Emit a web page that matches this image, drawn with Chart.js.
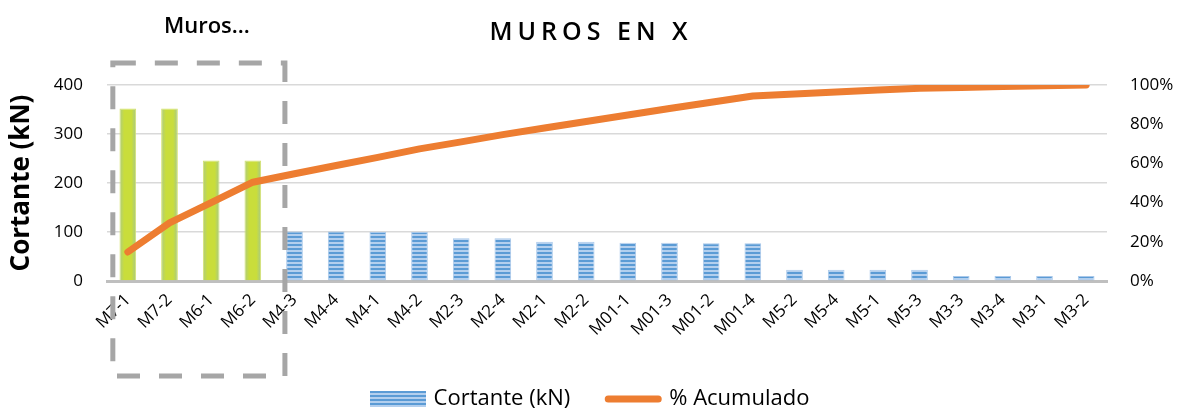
<!DOCTYPE html>
<html>
<head>
<meta charset="utf-8">
<script src="https://cdn.jsdelivr.net/npm/chart.js@4/dist/chart.umd.min.js"></script>
<style>
  body { margin: 0; background: #fff; }
  #wrap { width: 1182px; height: 412px; position: relative; }
</style>
</head>
<body>
<div id="wrap"><canvas id="paretoChart"></canvas></div>
<script>
// Muros (etiquetas del eje X)
const muros = ["M7-1", "M7-2", "M6-1", "M6-2", "M4-3", "M4-4", "M4-1", "M4-2",
    "M2-3", "M2-4", "M2-1", "M2-2", "M01-1", "M01-3", "M01-2", "M01-4",
    "M5-2", "M5-4", "M5-1", "M5-3", "M3-3", "M3-4", "M3-1", "M3-2"];
// Cortante en kN
const cortante = [352, 352, 246, 246, 101, 101, 100, 100, 87, 87, 80, 80,
    78, 78, 77, 77, 23, 23, 23, 23, 10, 10, 10, 10];
// % acumulado
const acumulado = [14.8, 29.7, 40.0, 50.4, 54.7, 58.9, 63.1, 67.4, 71.0, 74.7,
    78.1, 81.4, 84.7, 88.0, 91.2, 94.4, 95.4, 96.4, 97.4, 98.3, 98.7, 99.2, 99.6, 100];
const cortanteTicks = [0, 100, 200, 300, 400];
const nResaltados = 4; // muros dentro del recuadro

const FONT = "'Open Sans', sans-serif";

// patron rayado azul para las barras
const makeStripes = (w, h) => {
    const c = document.createElement("canvas");
    c.width = w; c.height = h;
    const g = c.getContext("2d");
    for (let y = 0; y < h; y += 4) {
        g.fillStyle = "#5b9bd5";
        g.fillRect(0, y, w, 2);
        g.fillStyle = "#b3cfee";
        g.fillRect(0, y + 2, w, 2);
    }
    return c;
};
const stripeTile = makeStripes(4, 4);
const legendSwatch = makeStripes(56, 16);
const ctx = document.getElementById("paretoChart").getContext("2d");
const stripePattern = ctx.createPattern(stripeTile, "repeat");

const barColor = (context) => {
    const i = context.dataIndex;
    if (i >= nResaltados) return stripePattern;
    const x = context.chart.scales.x;
    if (!x || x.width === 0) return "#c8dc3c";
    const cx = x.getPixelForValue(i);
    const g = context.chart.ctx.createLinearGradient(cx - 9, 0, cx + 9, 0);
    g.addColorStop(0, "#a9c98c");
    g.addColorStop(0.3, "#c9dd3b");
    g.addColorStop(0.7, "#c9dd3b");
    g.addColorStop(1, "#9fc596");
    return g;
};

// recuadro discontinuo + texto "Muros..."
const recuadro = {
    id: "recuadro",
    afterLayout(chart) {
        const tb = chart.titleBlock;
        if (tb && !tb._spaced) {
            const orig = tb.draw.bind(tb);
            tb.draw = function () {
                chart.ctx.save();
                chart.ctx.letterSpacing = "5px";
                orig();
                chart.ctx.restore();
            };
            tb._spaced = true;
        }
    },
    afterDraw(chart) {
        const { ctx, chartArea, scales } = chart;
        const left = scales.x.getPixelForValue(-0.36);
        const right = scales.x.getPixelForValue(nResaltados - 0.23);
        const top = chartArea.top - 22;
        const bottom = chartArea.bottom + 95;
        ctx.save();
        ctx.strokeStyle = "#a6a6a6";
        ctx.lineWidth = 5;
        ctx.setLineDash([23, 19]);
        ctx.beginPath();
        ctx.moveTo(left, top);
        ctx.lineTo(right, top);
        ctx.lineTo(right, bottom);
        ctx.lineTo(left, bottom);
        ctx.closePath();
        ctx.stroke();
        ctx.setLineDash([]);
        ctx.fillStyle = "#000";
        ctx.font = "600 22px " + FONT;
        ctx.textAlign = "center";
        ctx.textBaseline = "middle";
        ctx.fillText("Muros...", (left + right) / 2 + 8, 27);
        ctx.restore();
    },
};

const chart = new Chart(ctx, {
    data: {
        labels: muros,
        datasets: [
            {
                type: "line",
                label: "% Acumulado",
                data: acumulado,
                yAxisID: "y1",
                borderColor: "#ed7d31",
                backgroundColor: "#ed7d31",
                borderWidth: 7,
                borderCapStyle: "round",
                borderJoinStyle: "round",
                pointRadius: 0,
                tension: 0,
            },
            {
                type: "bar",
                label: "Cortante (kN)",
                data: cortante,
                yAxisID: "y",
                backgroundColor: barColor,
                borderColor: (c) => (c.dataIndex < nResaltados ? "#d6e36a" : "#a9c8ea"),
                borderWidth: 1,
                categoryPercentage: 0.8,
                barPercentage: 0.5,
            },
        ],
    },
    options: {
        responsive: true,
        maintainAspectRatio: false,
        animation: false,
        layout: { padding: { bottom: -8 } },
        plugins: {
            title: {
                display: true,
                text: "MUROS EN X",
                color: "#000",
                font: { family: FONT, size: 25, weight: "600" },
                padding: { top: 18, bottom: 37 },
            },
            legend: {
                position: "bottom",
                labels: {
                    usePointStyle: true,
                    pointStyleWidth: 50,
                    padding: 38,
                    color: "#000",
                    font: { family: FONT, size: 22 },
                    generateLabels: () => [
                        {
                            text: "Cortante (kN)",
                            pointStyle: legendSwatch,
                            fillStyle: "#5b9bd5",
                            strokeStyle: "#5b9bd5",
                            lineWidth: 0,
                            datasetIndex: 1,
                            fontColor: "#000",
                        },
                        {
                            text: "% Acumulado",
                            pointStyle: "line",
                            fillStyle: "#ed7d31",
                            strokeStyle: "#ed7d31",
                            lineWidth: 7,
                            lineCap: "round",
                            datasetIndex: 0,
                            fontColor: "#000",
                        },
                    ],
                },
            },
            tooltip: { enabled: false },
        },
        scales: {
            x: {
                grid: { display: false, drawTicks: false },
                border: { display: true, color: "#bfbfbf", width: 3 },
                ticks: {
                    color: "#000",
                    font: { family: FONT, size: 17 },
                    autoSkip: false,
                    maxRotation: 45,
                    minRotation: 45,
                    padding: 9,
                },
                afterFit: (s) => { s.height = 69; },
            },
            y: {
                position: "left",
                min: 0,
                max: 400,
                afterBuildTicks: (s) => { s.ticks = cortanteTicks.map((v) => ({ value: v })); },
                grid: { color: "#d9d9d9", lineWidth: 1.5, drawTicks: false },
                border: { display: false },
                ticks: {
                    color: "#000",
                    font: { family: FONT, size: 17 },
                    padding: 24,
                },
                title: {
                    display: true,
                    text: "Cortante (kN)",
                    color: "#000",
                    font: { family: FONT, size: 26, weight: "bold" },
                    padding: { top: 6, bottom: 0 },
                },
                afterFit: (s) => { s.width = 107; },
            },
            y1: {
                position: "right",
                min: 0,
                max: 100,
                grid: { display: false, drawTicks: false },
                border: { display: false },
                ticks: {
                    stepSize: 20,
                    color: "#000",
                    font: { family: FONT, size: 17 },
                    padding: 23,
                    callback: (v) => v + "%",
                },
                afterFit: (s) => { s.width = 75; },
            },
        },
    },
    plugins: [recuadro],
});
</script>
</body>
</html>
